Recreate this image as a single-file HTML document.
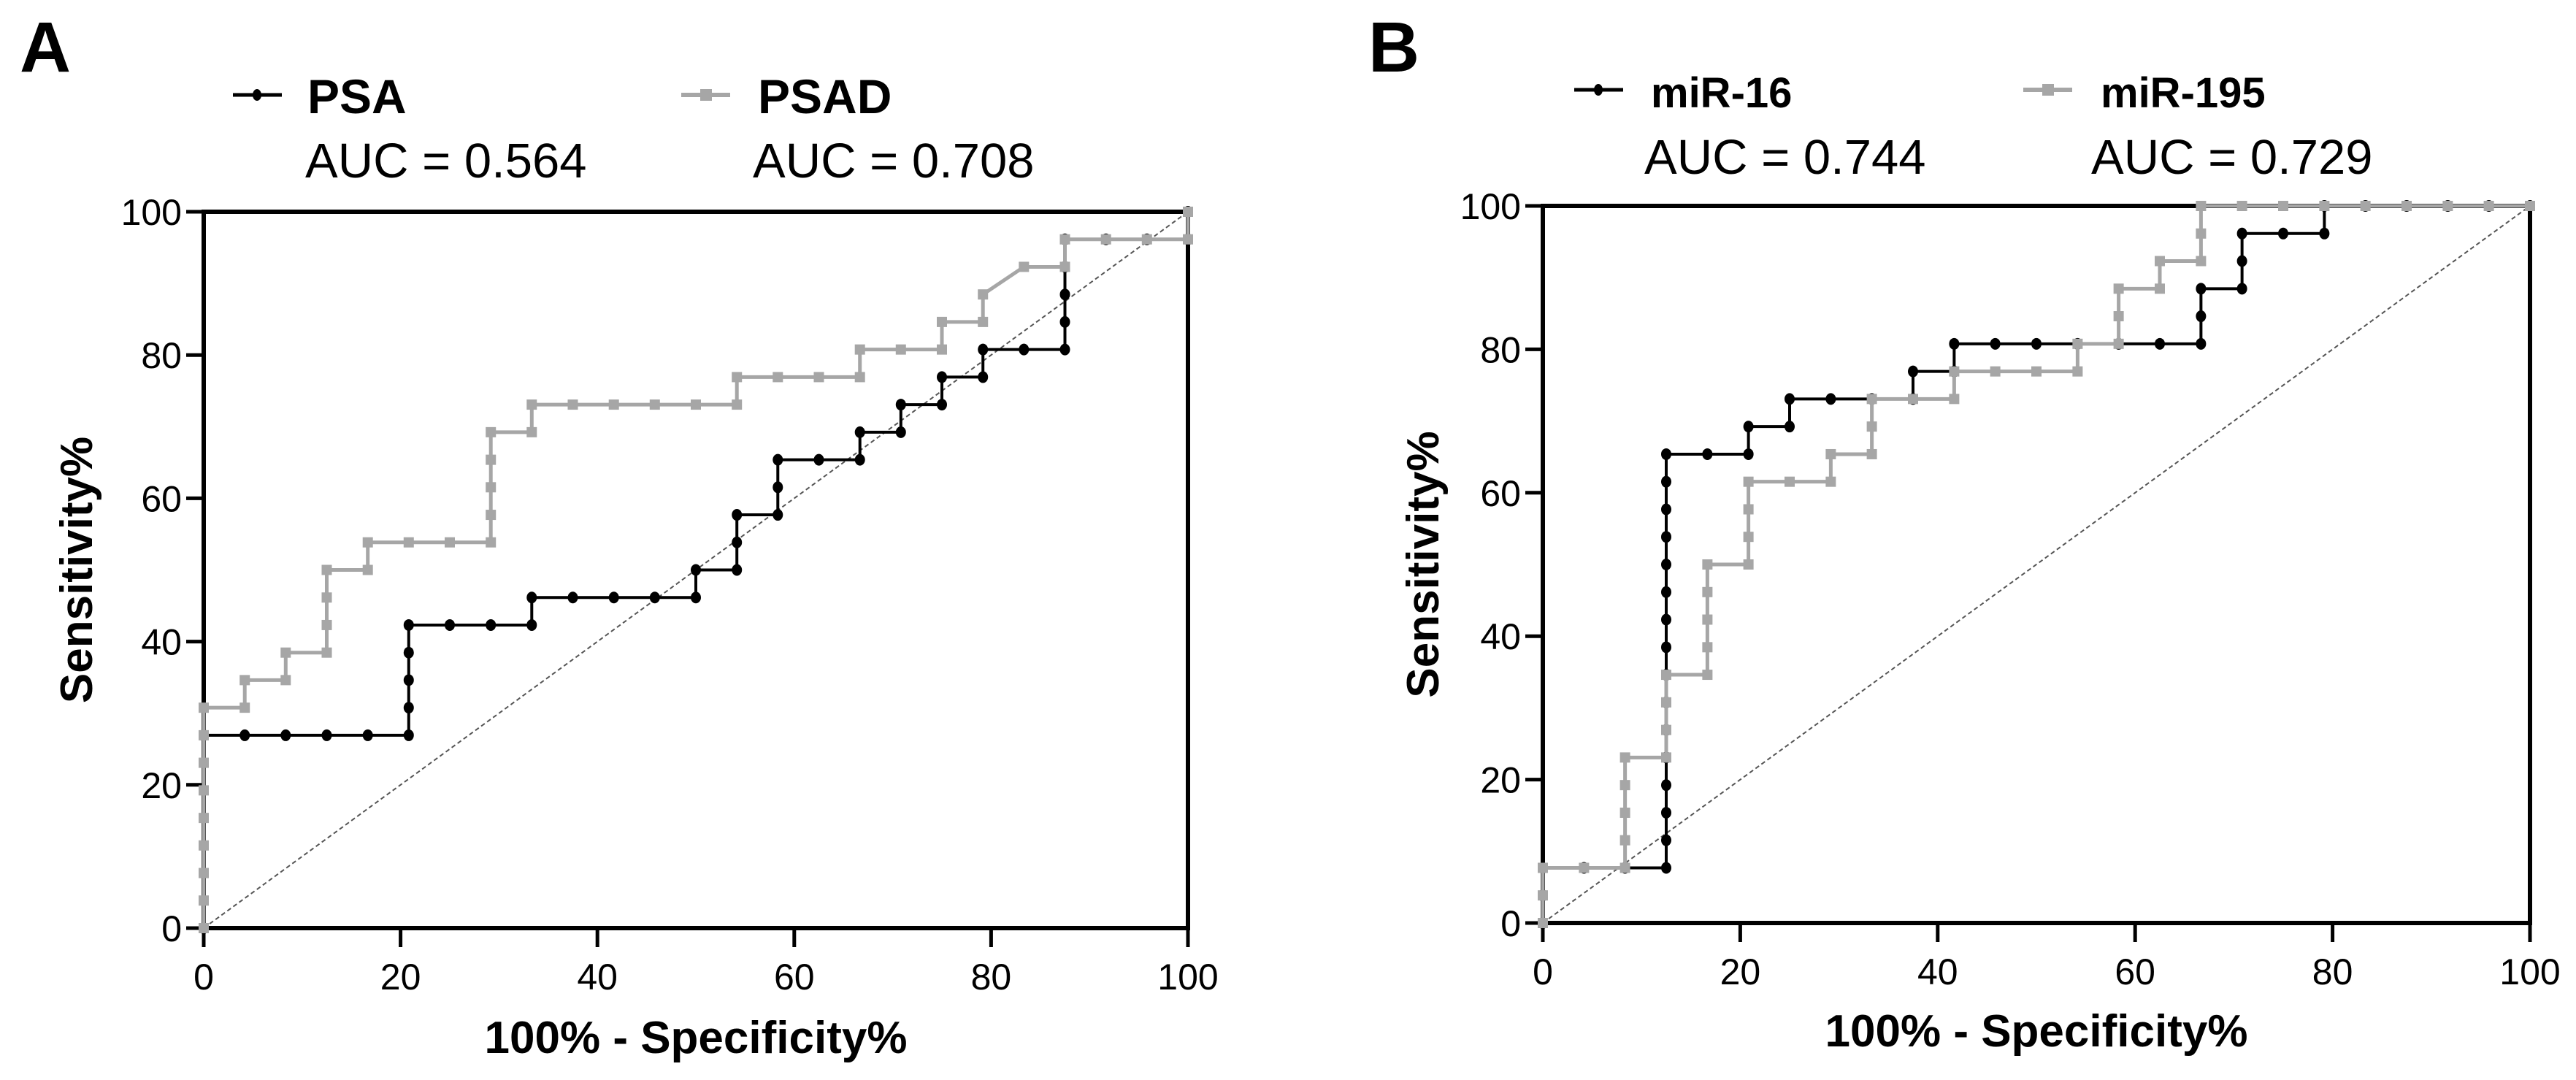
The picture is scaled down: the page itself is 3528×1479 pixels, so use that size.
<!DOCTYPE html>
<html><head><meta charset="utf-8"><style>
html,body{margin:0;padding:0;background:#fff;}
svg{display:block;font-family:"Liberation Sans",Arial,sans-serif;}
</style></head><body>
<svg id="fig" width="3528" height="1479" viewBox="0 0 3528 1479" xmlns="http://www.w3.org/2000/svg">
<rect width="3528" height="1479" fill="#fff"/>
</svg>
<script>
const ticks = [0,20,40,60,80,100];
const tickLabels = ["0","20","40","60","80","100"];
const psaFpr = [0,0,4.17,8.33,12.5,16.67,20.83,20.83,20.83,20.83,20.83,25,29.17,33.33,33.33,37.5,41.67,45.83,50,50,54.17,54.17,54.17,58.33,58.33,58.33,62.5,66.67,66.67,70.83,70.83,75,75,79.17,79.17,83.33,87.5,87.5,87.5,87.5,87.5,91.67,95.83,100,100];
const psaTpr = [0,26.92,26.92,26.92,26.92,26.92,26.92,30.77,34.62,38.46,42.31,42.31,42.31,42.31,46.15,46.15,46.15,46.15,46.15,50,50,53.85,57.69,57.69,61.54,65.38,65.38,65.38,69.23,69.23,73.08,73.08,76.92,76.92,80.77,80.77,80.77,84.62,88.46,92.31,96.15,96.15,96.15,96.15,100];
const psadFpr = [0,0,0,0,0,0,0,0,0,4.17,4.17,8.33,8.33,12.5,12.5,12.5,12.5,16.67,16.67,20.83,25,29.17,29.17,29.17,29.17,29.17,33.33,33.33,37.5,41.67,45.83,50,54.17,54.17,58.33,62.5,66.67,66.67,70.83,75,75,79.17,79.17,83.33,87.5,87.5,91.67,95.83,100,100];
const psadTpr = [0,3.85,7.69,11.54,15.38,19.23,23.08,26.92,30.77,30.77,34.62,34.62,38.46,38.46,42.31,46.15,50,50,53.85,53.85,53.85,53.85,57.69,61.54,65.38,69.23,69.23,73.08,73.08,73.08,73.08,73.08,73.08,76.92,76.92,76.92,76.92,80.77,80.77,80.77,84.62,84.62,88.46,92.31,92.31,96.15,96.15,96.15,96.15,100];
const mir16Fpr = [0,0,0,4.17,8.33,12.5,12.5,12.5,12.5,12.5,12.5,12.5,12.5,12.5,12.5,12.5,12.5,12.5,12.5,12.5,12.5,16.67,20.83,20.83,25,25,29.17,33.33,37.5,37.5,41.67,41.67,45.83,50,54.17,58.33,62.5,66.67,66.67,66.67,70.83,70.83,70.83,75,79.17,79.17,83.33,87.5,91.67,95.83,100];
const mir16Tpr = [0,3.85,7.69,7.69,7.69,7.69,11.54,15.38,19.23,23.08,26.92,30.77,34.62,38.46,42.31,46.15,50,53.85,57.69,61.54,65.38,65.38,65.38,69.23,69.23,73.08,73.08,73.08,73.08,76.92,76.92,80.77,80.77,80.77,80.77,80.77,80.77,80.77,84.62,88.46,88.46,92.31,96.15,96.15,96.15,100,100,100,100,100,100];
const mir195Fpr = [0,0,0,4.17,8.33,8.33,8.33,8.33,8.33,12.5,12.5,12.5,12.5,16.67,16.67,16.67,16.67,16.67,20.83,20.83,20.83,20.83,25,29.17,29.17,33.33,33.33,33.33,37.5,41.67,41.67,45.83,50,54.17,54.17,58.33,58.33,58.33,62.5,62.5,66.67,66.67,66.67,70.83,75,79.17,83.33,87.5,91.67,95.83,100];
const mir195Tpr = [0,3.85,7.69,7.69,7.69,11.54,15.38,19.23,23.08,23.08,26.92,30.77,34.62,34.62,38.46,42.31,46.15,50,50,53.85,57.69,61.54,61.54,61.54,65.38,65.38,69.23,73.08,73.08,73.08,76.92,76.92,76.92,76.92,80.77,80.77,84.62,88.46,88.46,92.31,92.31,96.15,100,100,100,100,100,100,100,100,100];

const NS="http://www.w3.org/2000/svg";
const svg=document.getElementById('fig');
function mk(tag,attrs,parent,text){const e=document.createElementNS(NS,tag);for(const k in attrs)e.setAttribute(k,attrs[k]);if(text!==undefined)e.textContent=text;(parent||svg).appendChild(e);return e;}

function panel(cfg){
  const g=mk('g',{});
  
  
  const sx=v=>cfg.x0+(cfg.x1-cfg.x0)*v/100;
  const sy=v=>cfg.y0+(cfg.y1-cfg.y0)*v/100;
  // panel letter
  const L=mk('text',{x:cfg.letterX,y:98,'font-size':97,'font-weight':'bold'},g,cfg.letter);
  
  
  // diagonal
  const d=mk('line',{x1:sx(0),y1:sy(0),x2:sx(100),y2:sy(100),stroke:'#555','stroke-width':2,'stroke-dasharray':'6,4'},g);
  
  
  // frame
  const fr=mk('rect',{x:sx(0),y:sy(100),width:sx(100)-sx(0),height:sy(0)-sy(100),fill:'none',stroke:'#000','stroke-width':6},g);
  
  
  ticks.forEach((t,i)=>{
    const xt=mk('line',{x1:sx(t),y1:sy(0),x2:sx(t),y2:sy(0)+26,stroke:'#000','stroke-width':5},g);
    
    
    const xl=mk('text',{x:sx(t),y:sy(0)+84,'font-size':50,'text-anchor':'middle'},g,tickLabels[i]);
    
    
    const yt=mk('line',{x1:sx(0)-24,y1:sy(t),x2:sx(0),y2:sy(t),stroke:'#000','stroke-width':5},g);
    
    
    const yl=mk('text',{x:sx(0)-30,y:sy(t)+18,'font-size':50,'text-anchor':'end'},g,tickLabels[i]);
    
    
  });
  const xtitle=mk('text',{x:(sx(0)+sx(100))/2,y:cfg.xTitleY,'font-size':62,'font-weight':'bold','text-anchor':'middle'},g,'100% - Specificity%');
  
  
  const cy=(sy(0)+sy(100))/2;
  const ytitle=mk('text',{x:0,y:0,'font-size':62,'font-weight':'bold','text-anchor':'middle',transform:`translate(${cfg.yTitleX},${cy}) rotate(-90)`},g,'Sensitivity%');
  
  
  // series
  cfg.series.forEach(s=>{
    const sg=mk('g',{},g);
    
    
    const pts=s.fpr.map((v,i)=>sx(v)+','+sy(s.tpr[i])).join(' ');
    const pl=mk('polyline',{points:pts,fill:'none',stroke:s.color,'stroke-width':s.gray?5:4,'stroke-linejoin':'miter'},sg);
    
    
    s.fpr.forEach((v,i)=>{
      let m;
      if(s.gray){m=mk('rect',{x:sx(v)-7,y:sy(s.tpr[i])-7,width:14,height:14,fill:s.color},sg);}
      else{m=mk('ellipse',{cx:sx(v),cy:sy(s.tpr[i]),rx:7,ry:8,fill:s.color},sg);}
      
      
    });
    // legend
    const lg=mk('g',{},g);
    
    
    mk('line',{x1:s.lx,y1:cfg.legY,x2:s.lx+67,y2:cfg.legY,stroke:s.color,'stroke-width':s.gray?6:5},lg);
    if(s.gray) mk('rect',{x:s.lx+26,y:cfg.legY-8,width:16,height:16,fill:s.color},lg);
    else mk('ellipse',{cx:s.lx+33,cy:cfg.legY,rx:6,ry:8,fill:s.color},lg);
    mk('text',{x:s.tx,y:cfg.legTextY,'font-size':cfg.legFont,'font-weight':'bold'},lg,s.label);
    mk('text',{x:s.ax,y:cfg.aucY,'font-size':67},lg,s.auc);
  });
}

panel({name:'panel-a',letter:'A',letterX:27,x0:279,x1:1627,y0:1271,y1:290,xTitleY:1442,yTitleX:126,
  legY:130,legTextY:155,aucY:243,legFont:66,
  series:[
    {key:'psa',label:'PSA',auc:'AUC = 0.564',fpr:psaFpr,tpr:psaTpr,color:'#000',gray:false,lx:319,tx:421,ax:418},
    {key:'psad',label:'PSAD',auc:'AUC = 0.708',fpr:psadFpr,tpr:psadTpr,color:'#a6a6a6',gray:true,lx:933,tx:1038,ax:1031}
  ]});
panel({name:'panel-b',letter:'B',letterX:1874,x0:2113,x1:3465,y0:1264,y1:282,xTitleY:1433,yTitleX:1970,
  legY:123,legTextY:147,aucY:238,legFont:58,
  series:[
    {key:'mir-16',label:'miR-16',auc:'AUC = 0.744',fpr:mir16Fpr,tpr:mir16Tpr,color:'#000',gray:false,lx:2156,tx:2261,ax:2252},
    {key:'mir-195',label:'miR-195',auc:'AUC = 0.729',fpr:mir195Fpr,tpr:mir195Tpr,color:'#a6a6a6',gray:true,lx:2771,tx:2877,ax:2864}
  ]});
</script>
</body></html>
